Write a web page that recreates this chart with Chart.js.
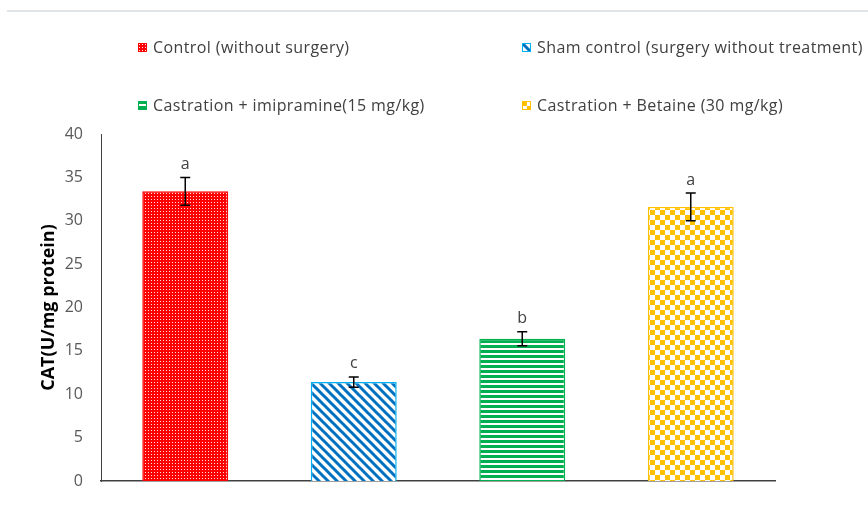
<!DOCTYPE html>
<html>
<head>
<meta charset="utf-8">
<script src="https://cdn.jsdelivr.net/npm/chart.js@4.4.1/dist/chart.umd.min.js"></script>
<style>
  body { margin: 0; background: #fff; font-family: "Open Sans", sans-serif; }
  #wrap { position: relative; width: 868px; height: 510px; overflow: hidden; }
  #topline { position: absolute; left: 7px; right: 0; top: 10px; height: 2px; background: #dfe4e9; }
  .leg { position: absolute; font-size: 16px; letter-spacing: 0.4px; color: #404040; white-space: nowrap; display: flex; align-items: center; }
  .leg canvas { margin-right: 6px; }
</style>
</head>
<body>
<div id="wrap">
  <div id="topline"></div>
  <canvas id="catChart" width="868" height="510"></canvas>
</div>
<script>
const groups = ['Control (without surgery)', 'Sham control (surgery without treatment)',
                'Castration + imipramine(15 mg/kg)', 'Castration + Betaine (30 mg/kg)'];
const catValues = [33.4, 11.4, 16.4, 31.6];
const catErrors = [1.6, 0.6, 0.8, 1.6];
const sigLetters = ['a', 'c', 'b', 'a'];
const yTickValues = [0, 5, 10, 15, 20, 25, 30, 35, 40];

const borderColors = ['#ff0000', '#00b0f0', '#00b050', '#ffc000'];

// small tiles for the hatch fills
function makeTile(kind) {
    const c = document.createElement('canvas');
    let g;
    if (kind === 0) {
        c.width = 3; c.height = 3;
        g = c.getContext('2d');
        g.fillStyle = '#ff0000'; g.fillRect(0, 0, 3, 3);
        g.fillStyle = '#ffe0e0'; g.fillRect(1, 1, 1, 1);
    } else if (kind === 1) {
        c.width = 9; c.height = 9;
        g = c.getContext('2d');
        g.fillStyle = '#fff'; g.fillRect(0, 0, 9, 9);
        g.strokeStyle = '#0070c0'; g.lineWidth = 3;
        g.beginPath();
        g.moveTo(-2, -2); g.lineTo(11, 11);
        g.moveTo(-2, 7); g.lineTo(2, 11);
        g.moveTo(7, -2); g.lineTo(11, 2);
        g.stroke();
    } else if (kind === 2) {
        c.width = 4; c.height = 5;
        g = c.getContext('2d');
        g.fillStyle = '#fff'; g.fillRect(0, 0, 4, 5);
        g.fillStyle = '#00b050'; g.fillRect(0, 0, 4, 3);
    } else {
        c.width = 10; c.height = 10;
        g = c.getContext('2d');
        g.fillStyle = '#fff'; g.fillRect(0, 0, 10, 10);
        g.fillStyle = '#ffc000';
        g.fillRect(0, 0, 5, 5); g.fillRect(5, 5, 5, 5);
    }
    return c;
}

const ctx = document.getElementById('catChart').getContext('2d');
const fills = [0, 1, 2, 3].map(k => ctx.createPattern(makeTile(k), 'repeat'));

// legend (2 x 2 grid)
const legPos = [[138, 47], [522, 47], [138, 105], [522, 105]];
groups.forEach(function(name, i) {
    const item = document.createElement('div');
    item.className = 'leg';
    item.style.left = legPos[i][0] + 'px';
    item.style.top = (legPos[i][1] - 11) + 'px';
    item.style.height = '22px';
    const sw = document.createElement('canvas');
    sw.width = 9; sw.height = 9;
    const s = sw.getContext('2d');
    s.fillStyle = s.createPattern(makeTile(i), 'repeat');
    s.fillRect(0, 0, 9, 9);
    s.strokeStyle = borderColors[i]; s.lineWidth = 1;
    s.strokeRect(0.5, 0.5, 8, 8);
    item.appendChild(sw);
    item.appendChild(document.createTextNode(name));
    document.getElementById('wrap').appendChild(item);
});

const errorBars = {
    id: 'errorBars',
    afterDatasetsDraw(chart) {
        const c = chart.ctx;
        const y = chart.scales.y;
        const meta = chart.getDatasetMeta(0);
        c.save();
        c.strokeStyle = '#000';
        c.lineWidth = 1.5;
        c.fillStyle = '#404040';
        c.font = '16px "Open Sans"';
        c.textAlign = 'center';
        c.textBaseline = 'middle';
        meta.data.forEach(function(bar, i) {
            const top = y.getPixelForValue(catValues[i] + catErrors[i]);
            const bot = y.getPixelForValue(catValues[i] - catErrors[i]);
            c.beginPath();
            c.moveTo(bar.x, top); c.lineTo(bar.x, bot);
            c.moveTo(bar.x - 5, top); c.lineTo(bar.x + 5, top);
            c.moveTo(bar.x - 5, bot); c.lineTo(bar.x + 5, bot);
            c.stroke();
            c.fillText(sigLetters[i], bar.x, top - 13);
        });
        c.restore();
    }
};

new Chart(ctx, {
    type: 'bar',
    data: {
        labels: groups,
        datasets: [{
            data: catValues,
            backgroundColor: fills,
            borderColor: borderColors,
            borderWidth: 1.5,
            barPercentage: 0.51,
            categoryPercentage: 1
        }]
    },
    options: {
        responsive: false,
        animation: false,
        layout: { padding: { top: 134, right: 93, bottom: 29, left: 0 } },
        plugins: { legend: { display: false }, tooltip: { enabled: false } },
        scales: {
            x: {
                grid: { display: false },
                border: { display: true, color: '#404040', width: 1.5 },
                ticks: { display: false },
                afterFit: function(scale) { scale.height = 0; }
            },
            y: {
                min: 0,
                max: 40,
                afterBuildTicks: function(scale) {
                    scale.ticks = yTickValues.map(v => ({ value: v }));
                },
                grid: { display: false, drawTicks: false },
                border: { display: true, color: '#404040', width: 1 },
                ticks: { color: '#595959', font: { family: 'Open Sans', size: 16 }, padding: 18 },
                title: {
                    display: true,
                    text: 'CAT(U/mg protein)',
                    color: '#000',
                    font: { family: 'Open Sans', size: 18, weight: 'bold' },
                    padding: { top: 38, bottom: 0 }
                },
                afterFit: function(scale) { scale.width = 101; }
            }
        }
    },
    plugins: [errorBars]
});
</script>
</body>
</html>
